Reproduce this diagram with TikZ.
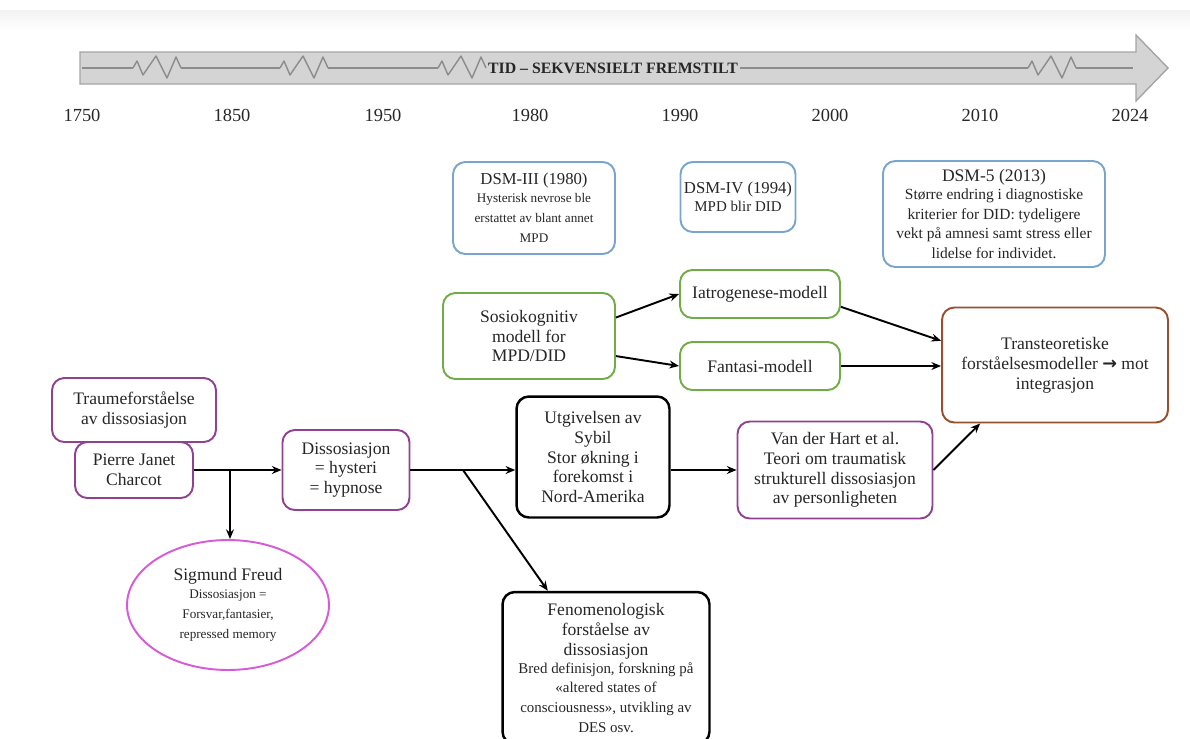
\documentclass[tikz,border=0pt]{standalone}
\usepackage{fontspec}
\setmainfont{Liberation Serif}
\newfontfamily\arrowfont{DejaVu Sans}
\usetikzlibrary{arrows.meta,shapes.geometric}

\definecolor{barfill}{RGB}{212,212,212}
\definecolor{bardraw}{RGB}{165,165,165}
\definecolor{zigline}{RGB}{140,140,140}
\definecolor{dsmblue}{RGB}{120,165,205}
\definecolor{modgreen}{RGB}{112,173,71}
\definecolor{traumpurple}{RGB}{145,65,145}
\definecolor{freudpink}{RGB}{215,90,215}
\definecolor{transbrown}{RGB}{150,80,45}

\newcommand{\smalltxt}{\fontsize{7.5}{8.5}\selectfont}
\newcommand{\midtxt}{\fontsize{8.5}{9.5}\selectfont}
\newcommand{\dsmtxt}{\fontsize{8.8}{9.6}\selectfont}

\begin{document}
\begin{tikzpicture}[x=0.02cm,y=-0.02cm,
  >={Stealth[length=5.5pt,width=4.5pt]},
  every node/.style={text=black!85,font=\fontsize{10}{11.3}\selectfont,align=center},
  box/.style={draw,rounded corners=7pt,line width=1.1pt,fill=white,inner sep=2pt},
  bluebox/.style={box,draw=dsmblue},
  greenbox/.style={box,draw=modgreen},
  purplebox/.style={box,draw=traumpurple},
  blackbox/.style={box,draw=black,line width=1.4pt},
  brownbox/.style={box,draw=transbrown},
  year/.style={font=\fontsize{10.5}{12}\selectfont},
  conn/.style={->,line width=1.1pt,black},
  zig/.style={draw=zigline,line width=0.8pt,line join=round}
]

  \useasboundingbox (0,0) rectangle (1190,738);
  \fill[top color=gray!10,bottom color=white] (0,10) rectangle (1190,30);

  \draw[fill=barfill,draw=bardraw,line width=0.8pt]
    (80,52) -- (1136,52) -- (1136,35) -- (1168,68) -- (1136,101) -- (1136,84) -- (80,84) -- cycle;

  \node[anchor=west,inner sep=1pt,font=\bfseries\fontsize{9}{10}\selectfont] (tid) at (486,68)
    {TID -- SEKVENSIELT FREMSTILT};

  \foreach \zx in {133,280,438,1028}
    \draw[zig] (\zx,68) -- ++(4,-7) -- ++(6,14) -- ++(13,-19) -- ++(11,22) -- ++(9,-21) -- ++(5,11);
  \draw[zig] (82,68) -- (133,68) (181,68) -- (280,68) (328,68) -- (438,68)
    (tid.east) -- (1028,68) (1076,68) -- (1133,68);

  \foreach \yr/\xp in {1750/82,1850/232,1950/383,1980/530,1990/680,2000/830,2010/980,2024/1130}
    \node[year] (y\yr) at (\xp,115) {\yr};

  \node[bluebox,minimum width=3.24cm,minimum height=1.84cm] (dsm3) at (534,208)
    {\fontsize{9.5}{10.5}\selectfont DSM-III (1980)\\[-1pt] \smalltxt Hysterisk nevrose ble\\ \smalltxt erstattet av blant annet\\ \smalltxt MPD};
  \node[bluebox,minimum width=2.30cm,minimum height=1.40cm] (dsm4) at (738,197)
    {\fontsize{9.5}{10.5}\selectfont DSM-IV (1994)\\[-1pt] \midtxt MPD blir DID};
  \node[bluebox,minimum width=4.44cm,minimum height=2.12cm] (dsm5) at (994,214)
    {\fontsize{10}{11}\selectfont DSM-5 (2013)\\[-1pt] \dsmtxt Større endring i diagnostiske\\ \dsmtxt kriterier for DID: tydeligere\\ \dsmtxt vekt på amnesi samt stress eller\\ \dsmtxt lidelse for individet.};

  \node[greenbox,minimum width=3.44cm,minimum height=1.72cm] (sosio) at (529,336)
    {Sosiokognitiv\\ modell for\\ MPD/DID};
  \node[greenbox,minimum width=3.20cm,minimum height=0.96cm] (iatro) at (760,294) {Iatrogenese-modell};
  \node[greenbox,minimum width=3.20cm,minimum height=0.96cm] (fantasi) at (760,366) {Fantasi-modell};

  \node[brownbox,minimum width=4.52cm,minimum height=2.30cm] (trans) at (1055,365)
    {Transteoretiske\\ forståelsesmodeller {\arrowfont\bfseries →} mot\\ integrasjon};

  \node[purplebox,minimum width=3.28cm,minimum height=1.28cm] (traume) at (134,410)
    {Traumeforståelse\\ av dissosiasjon};
  \node[purplebox,minimum width=2.36cm,minimum height=1.12cm] (janet) at (134,470)
    {Pierre Janet\\ Charcot};
  \node[ellipse,draw=freudpink,line width=1.1pt,fill=white,inner sep=0pt,
        minimum width=4.04cm,minimum height=2.60cm] (freud) at (228,605)
    {Sigmund Freud\\[-1pt] \smalltxt Dissosiasjon =\\ \smalltxt Forsvar,fantasier,\\ \smalltxt repressed memory};
  \node[purplebox,minimum width=2.54cm,minimum height=1.60cm] (dissos) at (346,470)
    {Dissosiasjon\\ = hysteri\\ = hypnose};

  \node[blackbox,minimum width=3.06cm,minimum height=2.42cm] (sybil) at (593,457)
    {Utgivelsen av\\ Sybil\\ Stor økning i\\ forekomst i\\ Nord-Amerika};
  \node[blackbox,minimum width=4.14cm,minimum height=3.04cm] (feno) at (606,668)
    {Fenomenologisk\\ forståelse av\\ dissosiasjon\\[-1pt] \midtxt Bred definisjon, forskning på\\ \midtxt «altered states of\\ \midtxt consciousness», utvikling av\\ \midtxt DES osv.};
  \node[purplebox,minimum width=3.90cm,minimum height=1.94cm] (vdh) at (835,470)
    {Van der Hart et al.\\ Teori om traumatisk\\ strukturell dissosiasjon\\ av personligheten};

  \coordinate (s1) at (230,470);
  \coordinate (s2) at (463,470);

  \draw[conn] (janet.east) -- (janet.east -| dissos.west);
  \draw[conn] (s1) -- (s1 |- freud.north);
  \draw[conn] (dissos.east) -- (dissos.east -| sybil.west);
  \draw[conn] (s2) -- (feno.127);
  \draw[conn] (vdh.west -| sybil.east) -- (vdh.west);
  \draw[conn] (vdh.east) -- (trans.218);
  \draw[conn] (sosio.12) -- (iatro.west);
  \draw[conn] (sosio.-13) -- (fantasi.west);
  \draw[conn] (iatro.-9) -- (trans.168);
  \draw[conn] (fantasi.east) -- (trans.west |- fantasi.east);

\end{tikzpicture}
\end{document}
